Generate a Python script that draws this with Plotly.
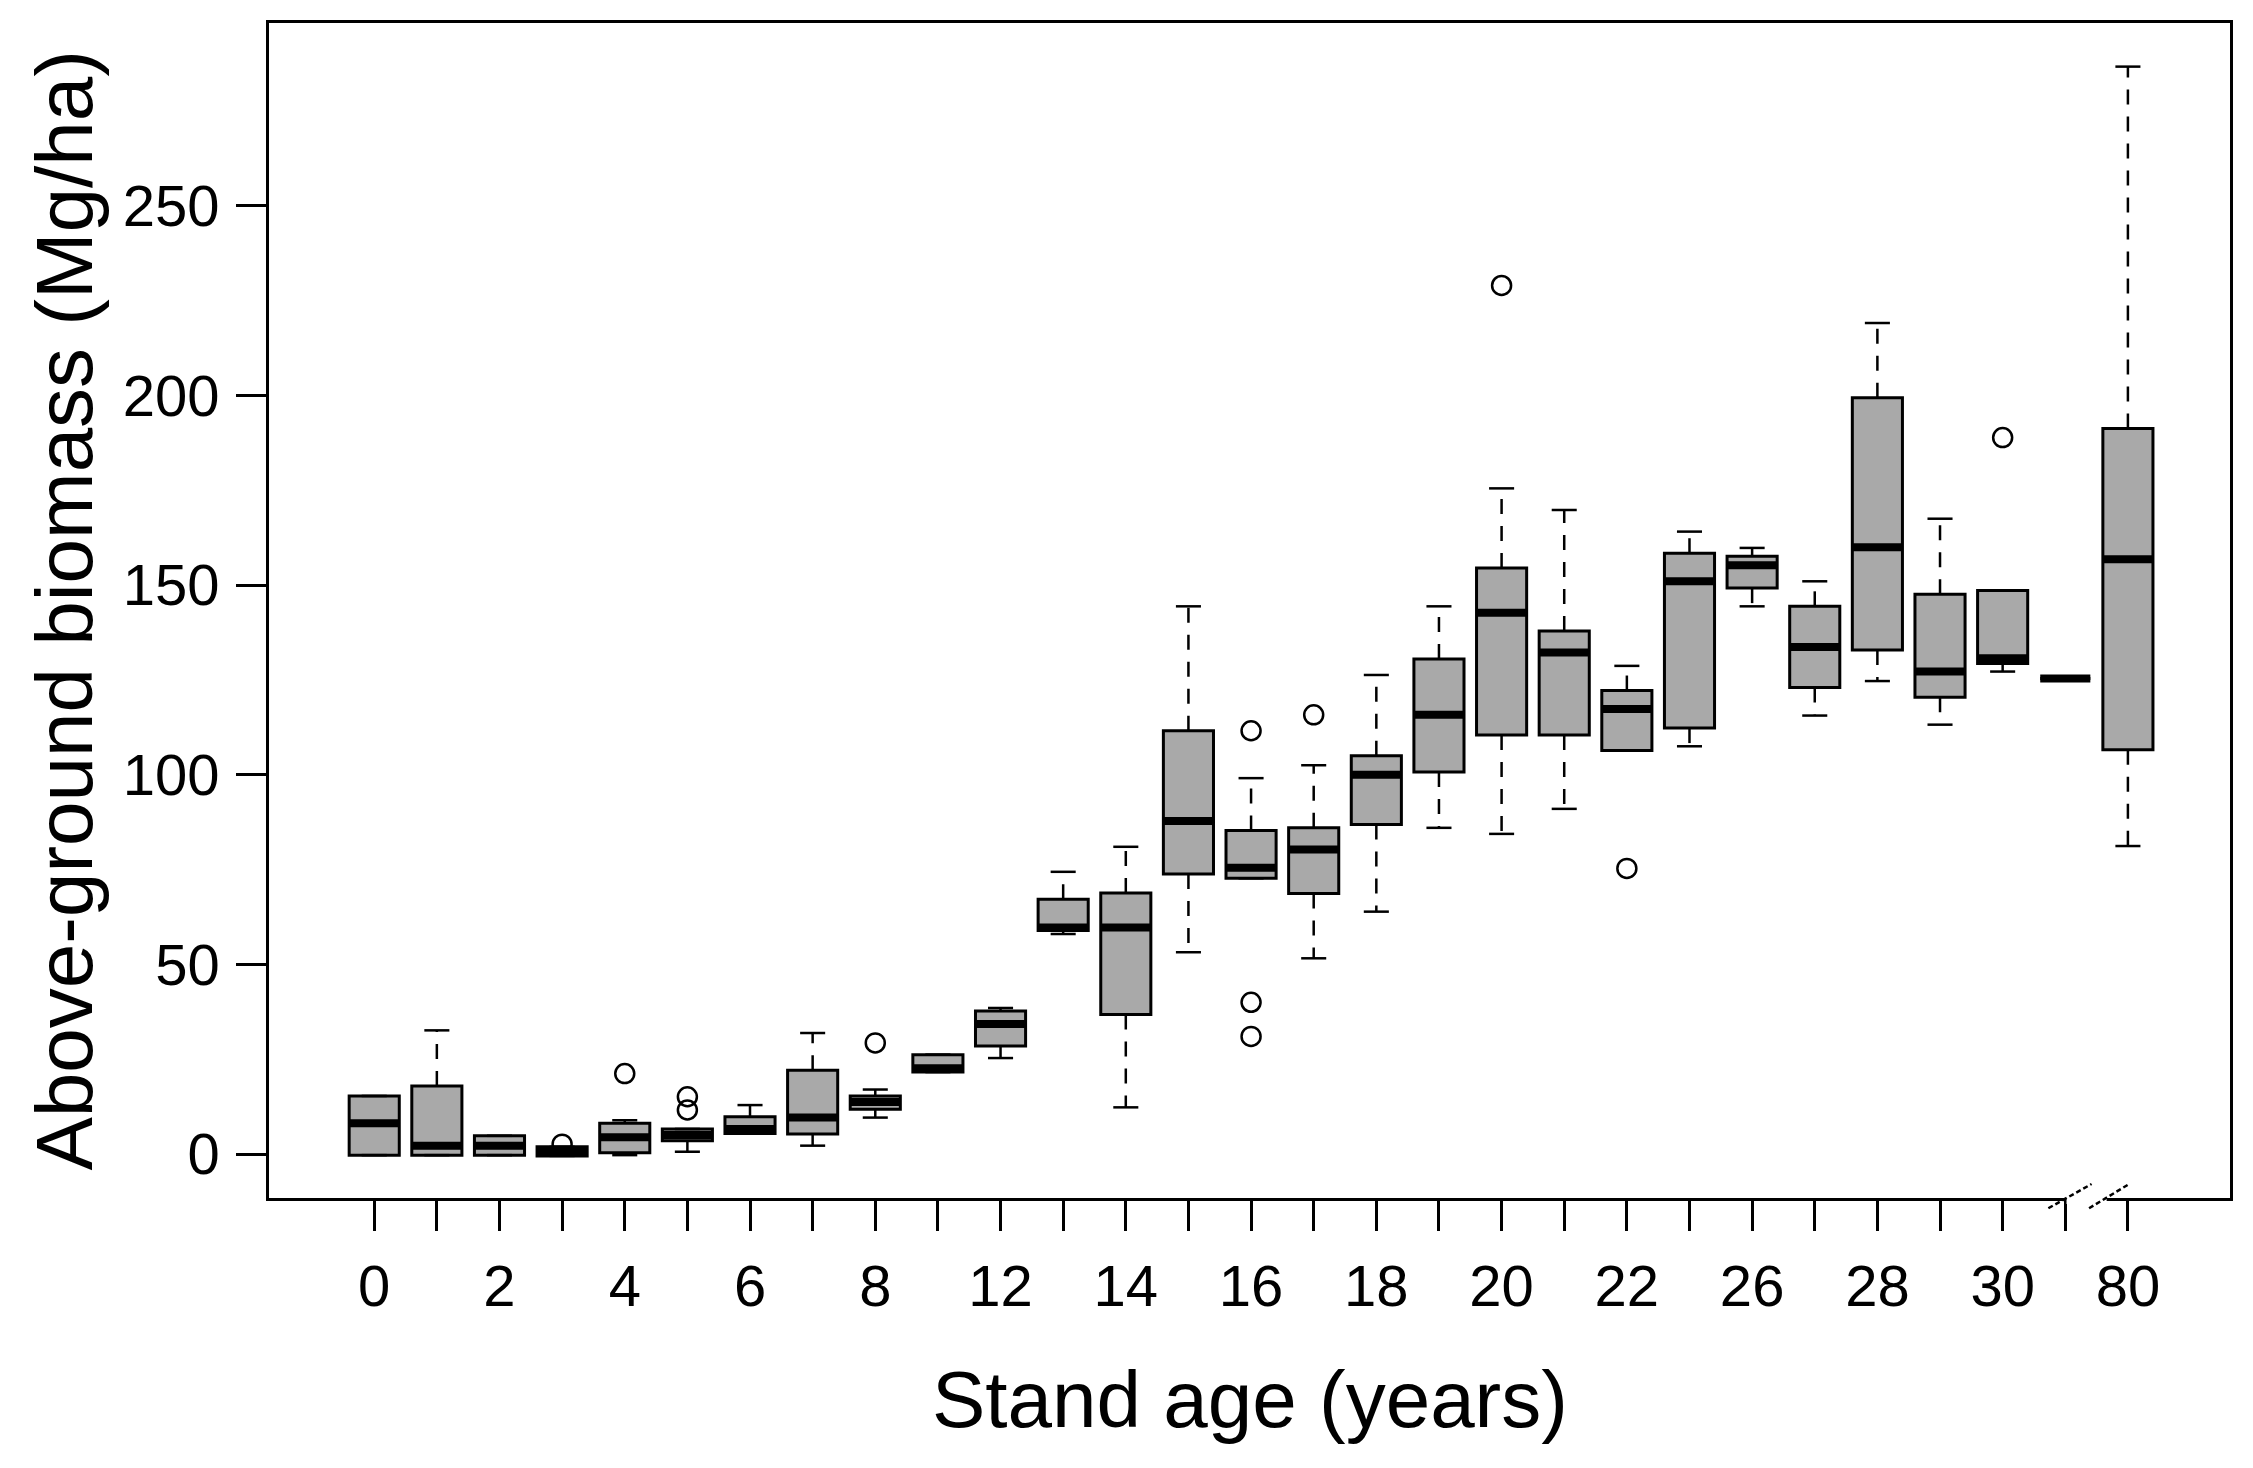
import plotly.graph_objects as go

# Colours / style
BLACK = "#000000"
BOX_FILL = "#A9A9A9"
FONT = "Liberation Sans, Arial, sans-serif"
BOX_W = 0.8
CAP_W = 0.4

# ── Data ──────────────────────────────────────────────────────────────────────
AGES = ["0", "1", "2", "3", "4", "5", "6", "7", "8", "10", "12", "13", "14",
        "15", "16", "17", "18", "19", "20", "21", "22", "24", "26", "27",
        "28", "29", "30", "32", "80"]

LOWER = [-0.3, -0.3, -0.3, -0.5, -0.3, 0.6, 5.4, 2.2, 9.6, 21.6, 25.3, 58.0,
         12.3, 53.2, 72.7, 51.6, 63.9, 86.0, 84.4, 91.0, 106.4, 107.5, 144.4,
         115.6, 124.7, 113.2, 127.2, 125.4, 81.2]
Q1 = [-0.3, -0.3, -0.3, -0.5, 0.3, 3.5, 5.4, 5.3, 11.8, 21.6, 28.5, 58.9,
      36.8, 73.8, 72.7, 68.7, 86.9, 100.7, 110.5, 110.5, 106.4, 112.3, 149.2,
      123.0, 132.9, 120.4, 129.3, 125.4, 106.6]
MEDIAN = [8.1, 2.2, 2.2, 0.6, 4.4, 5.0, 6.6, 9.6, 13.7, 22.6, 34.3, 59.7,
          59.7, 87.8, 75.5, 80.3, 100.0, 115.8, 142.7, 132.2, 117.3, 151.0,
          155.2, 133.7, 160.0, 127.2, 130.7, 125.4, 156.8]
Q3 = [15.3, 17.9, 4.8, 1.9, 8.1, 6.6, 9.8, 22.1, 15.3, 26.2, 37.7, 67.2,
      68.8, 111.6, 85.3, 86.0, 105.0, 130.5, 154.5, 137.9, 122.2, 158.4,
      157.6, 144.4, 199.4, 147.6, 148.6, 125.4, 191.3]
UPPER = [15.3, 32.6, 4.8, 1.9, 8.9, 6.6, 12.9, 31.9, 17.0, 26.2, 38.5, 74.4,
         81.0, 144.4, 99.1, 102.5, 126.3, 144.4, 175.5, 169.8, 128.7, 164.1,
         159.8, 151.0, 219.1, 167.5, 148.6, 125.4, 286.7]

OUT_AGE = ["3", "4", "5", "5", "8", "16", "16", "16", "17", "20", "22", "30"]
OUT_VAL = [2.6, 21.2, 15.1, 11.6, 29.3, 111.6, 40.0, 31.0, 115.8, 229.0, 75.3, 188.9]

Y_TICKS = [0, 50, 100, 150, 200, 250]

# ── Build ─────────────────────────────────────────────────────────────────────
pos = list(range(len(AGES)))
# R drops every other label because they would overlap
tick_text = [a if i % 2 == 0 else "" for i, a in enumerate(AGES)]

wx, wy, cx, cy, mx, my = [], [], [], [], [], []
for i in pos:
    wx += [i, i, None, i, i, None]
    wy += [Q3[i], UPPER[i], None, Q1[i], LOWER[i], None]
    cx += [i - CAP_W / 2, i + CAP_W / 2, None, i - CAP_W / 2, i + CAP_W / 2, None]
    cy += [UPPER[i], UPPER[i], None, LOWER[i], LOWER[i], None]
    mx += [i - BOX_W / 2, i + BOX_W / 2, None]
    my += [MEDIAN[i], MEDIAN[i], None]

fig = go.Figure()

fig.add_trace(go.Box(
    x=pos, q1=Q1, median=MEDIAN, q3=Q3,
    lowerfence=Q1, upperfence=Q3,
    width=BOX_W, whiskerwidth=0,
    fillcolor=BOX_FILL,
    line=dict(color=BLACK, width=3),
    boxpoints=False,
    showlegend=False,
))
fig.add_trace(go.Scatter(
    x=wx, y=wy, mode="lines",
    line=dict(color=BLACK, width=2.5, dash="15px,12px"),
    showlegend=False, hoverinfo="skip",
))
fig.add_trace(go.Scatter(
    x=cx, y=cy, mode="lines",
    line=dict(color=BLACK, width=2.5),
    showlegend=False, hoverinfo="skip",
))
fig.add_trace(go.Scatter(
    x=mx, y=my, mode="lines",
    line=dict(color=BLACK, width=8),
    showlegend=False, hoverinfo="skip",
))
fig.add_trace(go.Scatter(
    x=[AGES.index(a) for a in OUT_AGE], y=OUT_VAL, mode="markers",
    marker=dict(symbol="circle-open", size=19, color=BLACK,
                line=dict(color=BLACK, width=2.5)),
    showlegend=False,
))

# axis break marks between the last two groups
fig.add_shape(type="rect", xref="x", yref="paper",
              x0=27.02, x1=27.66, y0=-0.005, y1=0.005,
              fillcolor="white", line=dict(width=0))
for x0, x1 in [(26.73, 27.42), (27.38, 28.02)]:
    fig.add_shape(type="line", xref="x", yref="paper",
                  x0=x0, x1=x1, y0=-0.0087, y1=0.0119,
                  line=dict(color=BLACK, width=2.5, dash="5px,3px"))

axis_common = dict(
    showline=True, mirror=True, linecolor=BLACK, linewidth=2.5,
    showgrid=False, zeroline=False,
    ticks="outside", ticklen=30, tickwidth=2.5, tickcolor=BLACK,
    tickfont=dict(size=58, color=BLACK, family=FONT),
)

# page body has an 8px margin, so the figure is a little smaller than the window
fig.update_layout(
    width=2237, height=1452,
    paper_bgcolor="white", plot_bgcolor="white",
    font=dict(family=FONT, color=BLACK),
    margin=dict(l=261, r=14, t=12, b=262),
    xaxis=dict(range=[-1.68, 29.63], tickmode="array",
               tickvals=pos, ticktext=tick_text,
               ticklabelstandoff=6, **axis_common),
    yaxis=dict(range=[-11.6, 298.2], tickmode="array",
               tickvals=Y_TICKS, ticktext=[str(v) for v in Y_TICKS],
               ticklabelstandoff=5, **axis_common),
    annotations=[
        dict(text="Stand age (years)", xref="paper", yref="paper",
             x=0.5, y=-0.1715, xanchor="center", yanchor="middle",
             showarrow=False, font=dict(size=80, color=BLACK, family=FONT)),
        dict(text="Above-ground biomass (Mg/ha)", xref="paper", yref="paper",
             x=-0.1045, y=0.5, xanchor="center", yanchor="middle",
             textangle=-90, showarrow=False,
             font=dict(size=80, color=BLACK, family=FONT)),
    ],
)

fig.write_html("out.html")
